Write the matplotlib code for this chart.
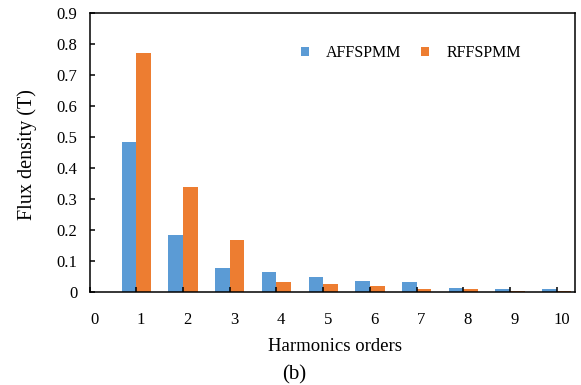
import numpy as np
import matplotlib
matplotlib.use("Agg")
import matplotlib.pyplot as plt
import matplotlib.transforms as mtransforms

plt.rcParams['font.family'] = ['Liberation Serif', 'DejaVu Serif']

# harmonic orders and flux density amplitudes (T)
orders = [1, 2, 3, 4, 5, 6, 7, 8, 9, 10]
affspmm = [0.483, 0.185, 0.077, 0.065, 0.048, 0.036, 0.033, 0.015, 0.012, 0.009]
rffspmm = [0.770, 0.339, 0.168, 0.033, 0.027, 0.019, 0.012, 0.009, 0.005, 0.004]
xticks = list(range(0, 11))
yticks = [0, 0.1, 0.2, 0.3, 0.4, 0.5, 0.6, 0.7, 0.8, 0.9]
ytick_labels = ['0', '0.1', '0.2', '0.3', '0.4', '0.5', '0.6', '0.7', '0.8', '0.9']

blue = '#5B9BD5'
orange = '#ED7D31'

fig = plt.figure(figsize=(5.81, 3.85), dpi=100)
ax = fig.add_axes([0.1544, 0.2408, 0.9902 - 0.1544, 0.967 - 0.2408])

x = np.array(orders)
w = 0.314
ax.bar(x - w / 2, affspmm, width=w, color=blue, label='AFFSPMM', linewidth=0)
ax.bar(x + w / 2, rffspmm, width=w, color=orange, label='RFFSPMM', linewidth=0)

ax.set_xlim(0, 10.4)
ax.set_ylim(0, 0.9)
ax.set_xticks(xticks)
ax.set_xticklabels([str(t) for t in xticks], fontsize=12)
ax.set_yticks(yticks)
ax.set_yticklabels(ytick_labels, fontsize=12)

for s in ax.spines.values():
    s.set_linewidth(1.1)
ax.tick_params(axis='both', direction='in', length=3.6, width=1.1)
ax.tick_params(axis='x', pad=14)
ax.tick_params(axis='y', pad=9)

# x labels sit slightly to the right of the tick marks
offset = mtransforms.ScaledTranslation(4.7 / 100, 0, fig.dpi_scale_trans)
for lab in ax.get_xticklabels():
    lab.set_transform(lab.get_transform() + offset)

fig.text(335 / 581, 1 - 346.7 / 385, 'Harmonics orders', fontsize=13.5,
         ha='center', va='center')
fig.text(27 / 581, 1 - 155 / 385, 'Flux density (T)', fontsize=14.5,
         ha='center', va='center', rotation=90)
fig.text(294 / 581, 1 - 375 / 385, '(b)', fontsize=15, ha='center', va='center')

ax.legend(loc='center', bbox_to_anchor=(411 / 581, 1 - 53 / 385),
          bbox_transform=fig.transFigure, ncol=2, frameon=False,
          fontsize=11.5, handlelength=0.5, handleheight=0.5,
          handletextpad=1.05, columnspacing=1.25)

fig.savefig('out.png', dpi=100)
